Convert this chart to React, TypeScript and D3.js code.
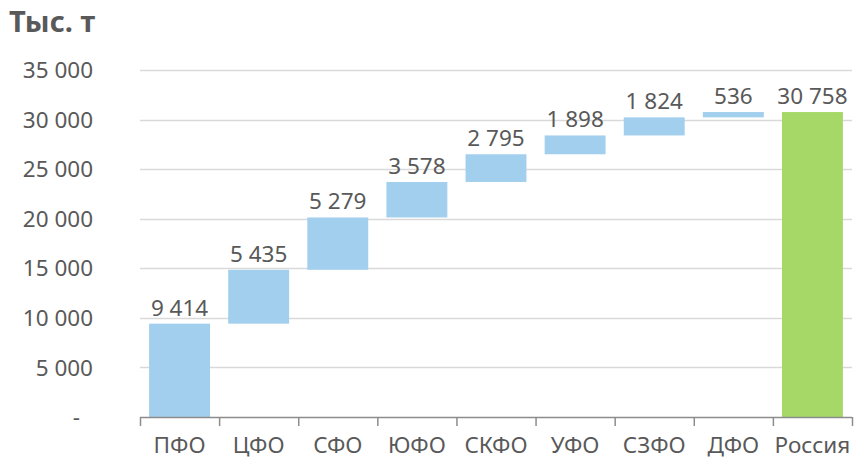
import * as d3 from 'd3'
import { useEffect, useRef } from 'react'

const categories = ['ПФО', 'ЦФО', 'СФО', 'ЮФО', 'СКФО', 'УФО', 'СЗФО', 'ДФО', 'Россия']
const values = [9414, 5435, 5279, 3578, 2795, 1898, 1824, 536, 30758]
const yTicks = [0, 5000, 10000, 15000, 20000, 25000, 30000, 35000]

const fmt = (v: number) => (v === 0 ? '-' : d3.format(',')(v).replace(/,/g, ' '))

export default function App() {
  const svgRef = useRef<SVGSVGElement | null>(null)

  useEffect(() => {
    if (!svgRef.current)
      return
    const W = 854
    const H = 460
    const font = '"Noto Sans", "DejaVu Sans", sans-serif'
    const textColor = '#595959'

    const svg = d3.select(svgRef.current)
    svg.selectAll('*').remove()
    svg.attr('width', W).attr('height', H)

    const x = d3.scaleBand().domain(categories).range([140, 852]).paddingInner(0.23).paddingOuter(0.115)
    const y = d3.scaleLinear().domain([0, 35000]).range([417, 70])

    // заголовок
    svg.append('text')
      .attr('x', 9).attr('y', 32)
      .attr('font-family', font).attr('font-weight', 'bold').attr('font-size', 29)
      .attr('fill', textColor)
      .text('Тыс. т')

    // сетка
    svg.append('g').selectAll('line')
      .data(yTicks.filter(t => t > 0))
      .enter().append('line')
      .attr('x1', 140).attr('x2', 852)
      .attr('y1', d => Math.round(y(d)) + 0.5).attr('y2', d => Math.round(y(d)) + 0.5)
      .attr('stroke', '#d9d9d9').attr('stroke-width', 1.5)

    svg.append('g').selectAll('text')
      .data(yTicks)
      .enter().append('text')
      .attr('x', d => (d === 0 ? 80 : 93))
      .attr('y', d => y(d))
      .attr('dy', '0.36em')
      .attr('text-anchor', 'end')
      .attr('font-family', font).attr('font-size', 22.5)
      .attr('fill', textColor)
      .text(d => fmt(d))

    // каскад
    let acc = 0
    const bars = values.map((v, i) => {
      const last = i === values.length - 1
      const start = last ? 0 : acc
      const end = last ? v : acc + v
      if (!last) acc += v
      return { cat: categories[i], v, start, end, last }
    })

    svg.append('g').selectAll('rect')
      .data(bars)
      .enter().append('rect')
      .attr('x', d => x(d.cat) || 0)
      .attr('width', x.bandwidth())
      .attr('y', d => y(d.end))
      .attr('height', d => y(d.start) - y(d.end))
      .attr('fill', d => (d.last ? '#a5d867' : '#a3cfee'))

    svg.append('g').selectAll('text')
      .data(bars)
      .enter().append('text')
      .attr('x', d => (x(d.cat) || 0) + x.bandwidth() / 2)
      .attr('y', d => y(d.end) - 8)
      .attr('text-anchor', 'middle')
      .attr('font-family', font).attr('font-size', 22.5)
      .attr('fill', textColor)
      .text(d => fmt(d.v))

    // ось X
    const axis = svg.append('g').attr('stroke', '#8c8c8c').attr('stroke-width', 1.5)
    axis.append('line').attr('x1', 140).attr('x2', 852).attr('y1', 417.5).attr('y2', 417.5)
    const step = x.step()
    axis.selectAll('line.tick')
      .data(d3.range(categories.length + 1))
      .enter().append('line')
      .attr('class', 'tick')
      .attr('x1', i => 140.5 + i * step).attr('x2', i => 140.5 + i * step)
      .attr('y1', 417).attr('y2', 426)

    svg.append('g').selectAll('text')
      .data(categories)
      .enter().append('text')
      .attr('x', d => (x(d) || 0) + x.bandwidth() / 2)
      .attr('y', 453)
      .attr('text-anchor', 'middle')
      .attr('font-family', font).attr('font-size', 22.5)
      .attr('fill', textColor)
      .text(d => d)
  }, [])

  return (
    <div style={{ position: 'absolute', left: 0, top: 0 }}>
      <svg ref={svgRef} style={{ display: 'block' }}></svg>
    </div>
  )
}
